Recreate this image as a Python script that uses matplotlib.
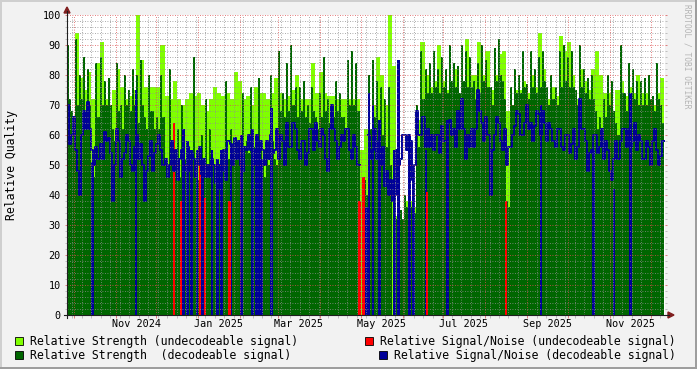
import numpy as np
import matplotlib
matplotlib.use("Agg")
import matplotlib.pyplot as plt
import matplotlib.dates as mdates
from matplotlib.patches import Rectangle, Polygon

# ---------------- data (3-day bins starting 2024-09-26) ----------------
start_date = "2024-09-26"
step_days = 3

# decodeable strength: peak (MAX) and typical low (MIN) within each bin
strength_decodable_max = [
    90, 68, 92, 80, 86, 82, 48, 84, 86, 78,
    79, 62, 84, 70, 80, 75, 82, 80, 85, 66,
    80, 68, 66, 80, 50, 82, 55, 62, 70, 52,
    50, 86, 45, 60, 72, 62, 50, 52, 55, 78,
    62, 58, 56, 74, 58, 76, 56, 79, 50, 55,
    80, 52, 88, 74, 84, 90, 76, 76, 78, 70,
    76, 66, 74, 86, 72, 70, 78, 74, 66, 85,
    88, 84, 0, 45, 80, 85, 78, 76, 72, 76,
    0, 32, 35, 40, 40, 38, 70, 88, 82, 84,
    88, 82, 86, 82, 90, 84, 83, 90, 88, 86,
    78, 84, 90, 85, 76, 89, 92, 78, 38, 76,
    82, 80, 88, 77, 88, 82, 86, 88, 76, 80,
    76, 88, 90, 86, 88, 75, 90, 82, 79, 80,
    68, 66, 72, 80, 78, 64, 90, 74, 84, 82,
    78, 78, 79, 80, 73, 84, 70,
]
strength_decodable_min = [
    72, 62, 70, 72, 68, 70, 46, 66, 70, 70,
    70, 58, 68, 62, 70, 68, 70, 64, 70, 62,
    68, 62, 62, 66, 46, 50, 48, 46, 50, 48,
    46, 52, 44, 48, 50, 50, 46, 46, 48, 52,
    54, 52, 52, 56, 54, 58, 54, 56, 46, 50,
    58, 50, 68, 66, 68, 70, 66, 68, 66, 64,
    68, 62, 66, 68, 64, 66, 68, 66, 62, 70,
    70, 68, 0, 40, 62, 66, 62, 60, 56, 50,
    0, 30, 32, 36, 36, 34, 56, 72, 74, 74,
    76, 74, 76, 74, 78, 76, 74, 78, 76, 76,
    72, 74, 78, 76, 70, 78, 80, 72, 36, 70,
    74, 74, 76, 72, 76, 74, 76, 78, 70, 72,
    70, 76, 78, 76, 76, 70, 76, 74, 72, 72,
    62, 60, 66, 70, 68, 60, 74, 68, 74, 72,
    70, 70, 70, 72, 68, 72, 64,
]

strength_undecodable = [
    70, 66, 94, 79, 75, 81, 72, 84, 91, 72,
    70, 75, 82, 76, 72, 73, 75, 100, 85, 76,
    76, 76, 76, 90, 73, 72, 78, 72, 70, 72,
    74, 73, 74, 70, 68, 72, 76, 74, 73, 74,
    72, 81, 78, 72, 73, 70, 76, 74, 74, 72,
    74, 79, 74, 72, 73, 75, 80, 72, 72, 72,
    84, 74, 81, 74, 73, 73, 72, 72, 72, 72,
    72, 72, 55, 62, 62, 70, 86, 80, 70, 100,
    83, 33, 32, 38, 38, 36, 65, 91, 80, 76,
    78, 90, 78, 75, 76, 82, 74, 78, 92, 80,
    80, 91, 80, 88, 75, 80, 87, 88, 68, 70,
    75, 75, 78, 74, 80, 76, 94, 82, 72, 76,
    73, 93, 88, 91, 80, 72, 82, 78, 75, 82,
    88, 80, 74, 74, 68, 75, 78, 73, 76, 74,
    80, 74, 74, 72, 70, 74, 79,
]

nan = float("nan")
# decodeable S/N: first and second half of each bin
snr_decodable_a = [
    70, 60, 55, 40, 68, 71, 55, 56, 57, 61,
    59, 38, 62, 46, 54, 58, 48, 60, 57, 38,
    53, 48, 57, 55, 52, 50, 48, 45, 55, 50,
    48, 52, 50, 47, 46, 46, 50, 42, 48, 45,
    57, 59, 58, 48, 55, 55, 55, 53, 55, 58,
    60, 55, 52, 58, 64, 56, 62, 52, 58, 54,
    62, 64, 56, 60, 48, 70, 58, 56, 58, 62,
    52, 56, nan, nan, 60, 55, 52, 50, 43, 40,
    38, 55, 52, 60, 60, 45, 68, 60, 56, 56,
    55, 60, 63, 58, 65, 62, 68, 72, 52, 56,
    56, 75, 64, 66, 40, 60, 64, 55, 50, 56,
    63, 67, 60, 70, 64, 63, 67, 68, 58, 62,
    56, 62, 55, 60, 57, 52, 72, 62, 48, 55,
    60, 56, 52, 55, 45, 58, 58, 62, 62, 58,
    55, 58, 52, 56, 58, 55, 53,
]
snr_decodable_b = [
    57, 66, 48, 60, 62, 62, 50, 52, 52, 58,
    54, 50, 58, 52, 60, 50, 56, 52, 50, 48,
    58, 54, 60, 50, 46, 58, 55, 52, 48, 56,
    54, 46, 56, 52, 50, 52, 44, 50, 55, 58,
    50, 52, 50, 56, 60, 50, 60, 58, 50, 52,
    54, 62, 60, 50, 56, 64, 55, 58, 50, 62,
    55, 58, 62, 52, 62, 62, 52, 60, 62, 55,
    60, 50, nan, nan, 52, 62, 58, 56, 48, 45,
    40, 50, 60, 55, 58, 50, 60, 66, 62, 60,
    60, 54, 58, 64, 60, 56, 62, 62, 60, 62,
    62, 68, 58, 60, 55, 66, 58, 62, 56, 60,
    68, 60, 64, 62, 58, 68, 60, 64, 64, 58,
    62, 56, 60, 54, 62, 56, 62, 58, 54, 60,
    54, 62, 58, 48, 52, 52, 62, 56, 56, 64,
    60, 52, 58, 50, 62, 50, 58,
]

# days where the decodeable S/N line drops to zero (value before the drop)
snr_drop_dates = [
    "2024-10-15", "2024-11-16", "2024-12-21", "2024-12-24", "2024-12-27",
    "2024-12-31", "2025-01-04", "2025-01-11", "2025-01-15", "2025-01-18",
    "2025-01-25", "2025-02-02", "2025-02-10", "2025-02-13", "2025-02-15",
    "2025-02-17", "2025-02-24", "2025-05-05", "2025-05-07", "2025-05-10",
    "2025-05-15", "2025-05-26", "2025-05-29", "2025-06-06", "2025-06-09",
    "2025-06-18", "2025-07-04", "2025-09-11", "2025-10-20", "2025-11-04",
    "2025-11-16",
]
snr_drop_values = [
    51, 75, 62, 58, 55,
    55, 52, 55, 52, 55,
    57, 60, 62, 60, 55,
    52, 69, 36, 74, 70,
    65, 55, 85, 60, 48,
    55, 65, 70, 55, 42,
    74,
]

# undecodeable S/N samples
snr_undecodable_dates = [
    "2024-12-14", "2024-12-19", "2025-01-02", "2025-01-06", "2025-01-24",
    "2025-04-30", "2025-05-03", "2025-06-19", "2025-08-16",
]
snr_undecodable_values = [64, 38, 50, 39, 38, 38, 46, 41, 38]

month_labels = ["Nov 2024", "Jan 2025", "Mar 2025", "May 2025",
                "Jul 2025", "Sep 2025", "Nov 2025"]
month_label_dates = ["2024-11-16", "2025-01-16", "2025-03-16", "2025-05-16",
                     "2025-07-16", "2025-09-16", "2025-11-16"]

legend_entries = [
    "Relative Strength (undecodeable signal)",
    "Relative Strength  (decodeable signal)",
    "Relative Signal/Noise (undecodeable signal)",
    "Relative Signal/Noise (decodeable signal)",
]

# ---------------- style ----------------
LGREEN = "#80FF00"
DGREEN = "#006600"
RED = "#FF0000"
BLUE = "#000099"
BACK = "#F2F2F2"
MONO = "DejaVu Sans Mono"

W, H = 697, 369
fig = plt.figure(figsize=(W / 100, H / 100), dpi=100)
fig.patch.set_facecolor(BACK)


def fx(x):
    return x / W


def fy(y):
    return 1 - y / H


ax = fig.add_axes([fx(67), fy(315), 598 / W, 300 / H])
ax.set_facecolor("white")
for s in ax.spines.values():
    s.set_visible(False)

t0 = mdates.datestr2num(start_date)
n = len(strength_decodable_max)
edges = t0 + step_days * np.arange(n + 1)
half_edges = t0 + (step_days / 2) * np.arange(2 * n + 1)

L = np.array(strength_undecodable, float)
D2 = np.column_stack([strength_decodable_max, strength_decodable_min]).ravel().astype(float)
B2 = np.column_stack([snr_decodable_a, snr_decodable_b]).ravel().astype(float)

ax.stairs(L, edges, fill=True, color=LGREEN, baseline=0, zorder=1.0, lw=0)
ax.stairs(D2, half_edges, fill=True, color=DGREEN, baseline=0, zorder=1.1, lw=0)
ax.bar(mdates.datestr2num(snr_drop_dates), snr_drop_values,
       width=2.0, color=BLUE, zorder=1.2, linewidth=0)
ax.bar(mdates.datestr2num(snr_undecodable_dates), snr_undecodable_values,
       width=1.6, color=RED, zorder=1.3, linewidth=0)
ax.step(half_edges, np.append(B2, B2[-1]), where="post", color=BLUE, lw=1.4,
        zorder=1.4)

ax.set_xlim(t0, t0 + 441.6)
ax.set_ylim(0, 100)

# grid
ax.set_yticks(np.arange(0, 101, 10))
ax.set_yticks(np.arange(0, 101, 2), minor=True)
ax.xaxis.set_major_locator(mdates.MonthLocator())
ax.xaxis.set_minor_locator(mdates.WeekdayLocator(byweekday=mdates.MO))
ax.set_axisbelow(False)
ax.grid(which="minor", color=(0.56, 0.56, 0.56, 0.28), lw=0.6,
        linestyle=(0, (1, 2)))
ax.grid(which="major", color=(0.87, 0.31, 0.31, 0.35), lw=0.6,
        linestyle=(0, (1, 2)))

ax.tick_params(axis="y", which="major", direction="out", length=1.5,
               width=0.72, color="#E08080", left=True, right=True,
               labelsize=7.3, pad=3.0, labelcolor="black")
ax.tick_params(axis="y", which="minor", direction="out", length=1.5,
               width=0.72, color="#C0C0C0", left=True, right=True)
ax.tick_params(axis="x", which="major", direction="out", length=2.2,
               width=0.72, color="#E08080", labelbottom=False)
ax.tick_params(axis="x", which="minor", direction="out", length=2.2,
               width=0.72, color="#C0C0C0")
for lab in ax.get_yticklabels():
    lab.set_family(MONO)

for lab, d in zip(month_labels, month_label_dates):
    ax.text(mdates.datestr2num(d), -9 / 300, lab, transform=ax.get_xaxis_transform(),
            ha="center", va="center", fontsize=7.3, family=MONO, clip_on=False)

# axis lines + arrows (figure pixel coordinates)
AXIS = "#1F1F1F"
ARROW = "#801F1F"
fig.add_artist(plt.Line2D([fx(64), fx(669)], [fy(315), fy(315)], color=AXIS, lw=0.8))
fig.add_artist(plt.Line2D([fx(67), fx(67)], [fy(318), fy(11)], color=AXIS, lw=0.8))
fig.add_artist(Polygon([[fx(668), fy(312)], [fx(674), fy(315)], [fx(668), fy(318)]],
                       closed=True, color=ARROW, transform=fig.transFigure))
fig.add_artist(Polygon([[fx(64), fy(13)], [fx(67), fy(7)], [fx(70), fy(13)]],
                       closed=True, color=ARROW, transform=fig.transFigure))

# frame
fig.add_artist(Rectangle((0, fy(2)), 1, 2 / H, transform=fig.transFigure,
                         color="#CFCFCF", lw=0))
fig.add_artist(Rectangle((0, 0), 2 / W, 1, transform=fig.transFigure,
                         color="#CFCFCF", lw=0))
fig.add_artist(Rectangle((0, 0), 1, 2 / H, transform=fig.transFigure,
                         color="#9E9E9E", lw=0))
fig.add_artist(Rectangle((1 - 2 / W, 0), 2 / W, 1, transform=fig.transFigure,
                         color="#9E9E9E", lw=0))

# y label and watermark
fig.text(fx(12), fy(165), "Relative Quality", rotation=90, ha="center",
         va="center", fontsize=8.3, family=MONO)
fig.text(fx(687), fy(4), "RRDTOOL / TOBI OETIKER", rotation=270, ha="center",
         va="top", fontsize=5.7, family=MONO, color="#B4B4B4")

# legend
legend_colors = [LGREEN, DGREEN, RED, BLUE]
legend_box_x = [15, 15, 365, 379]
legend_text_x = [30, 30, 380, 394]
legend_y = [341, 355, 341, 355]
for lab, col, bx, tx, y in zip(legend_entries, legend_colors, legend_box_x,
                               legend_text_x, legend_y):
    fig.add_artist(Rectangle((fx(bx), fy(y + 4)), 8 / W, 8 / H,
                             transform=fig.transFigure, facecolor=col,
                             edgecolor="black", lw=0.6))
    fig.text(fx(tx), fy(y + 0.5), lab, ha="left", va="center", fontsize=8.3,
             family=MONO)

fig.savefig("out.png", dpi=100, facecolor=BACK)
